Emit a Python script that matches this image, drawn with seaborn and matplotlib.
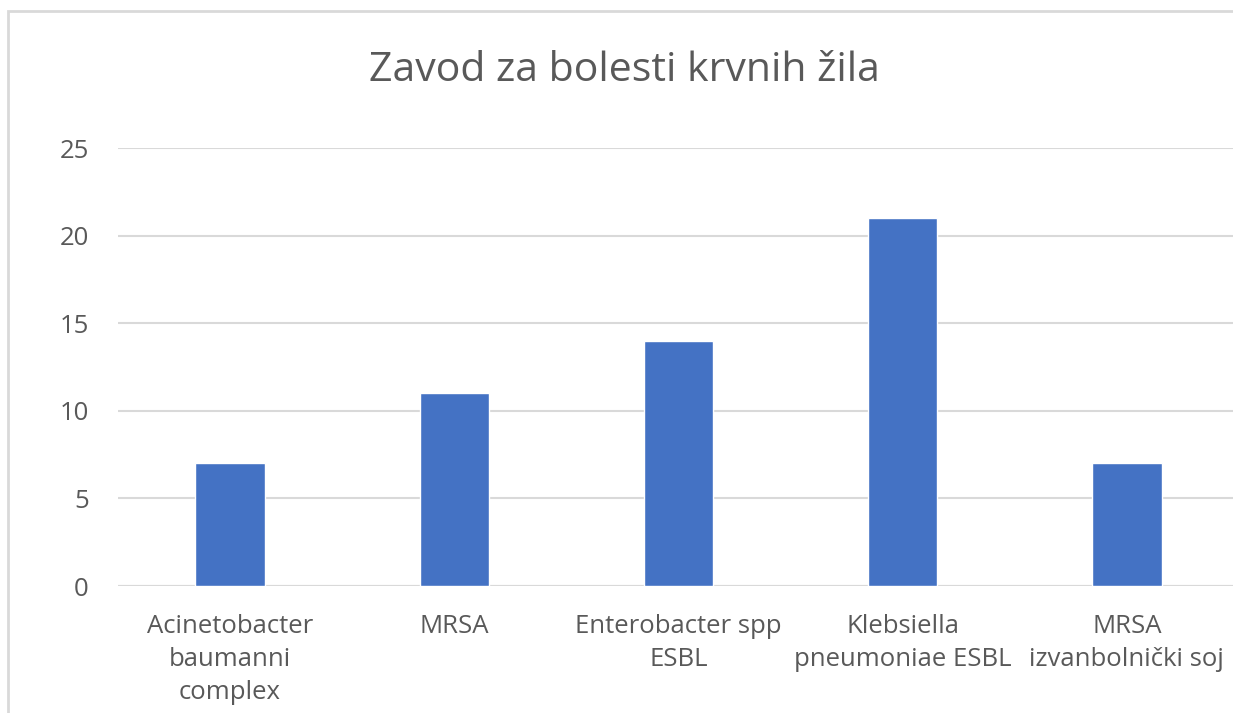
import matplotlib
matplotlib.use('Agg')
import matplotlib.pyplot as plt
import seaborn as sns
import pandas as pd
from matplotlib.patches import Rectangle

# podaci
categories = ['Acinetobacter\nbaumanni\ncomplex', 'MRSA', 'Enterobacter spp\nESBL',
              'Klebsiella\npneumoniae ESBL', 'MRSA\nizvanbolnički soj']
values = [7, 11, 14, 21, 7]
yticks = [0, 5, 10, 15, 20, 25]
title = 'Zavod za bolesti krvnih žila'

df = pd.DataFrame({'kategorija': categories, 'broj': values})

sns.set_style('white')
plt.rcParams['font.family'] = ['Open Sans', 'DejaVu Sans']

fig = plt.figure(figsize=(12.33, 7.13), dpi=100)
ax = fig.add_axes([118 / 1233, 127 / 713, 1121 / 1233, 438 / 713])

sns.barplot(data=df, x='kategorija', y='broj', color='#4472C4', width=0.31,
            saturation=1, ax=ax, zorder=3)

ax.set_xlim(-0.5, len(categories) - 0.5)
ax.set_ylim(0, 25)
ax.set_yticks(yticks)
ax.set_yticklabels([str(t) for t in yticks])
ax.yaxis.grid(True, color='#d9d9d9', linewidth=1.5, zorder=0)
ax.set_axisbelow(True)
for s in ax.spines.values():
    s.set_visible(False)
ax.axhline(0, color='#d9d9d9', linewidth=1.5, zorder=2)
ax.tick_params(axis='both', length=0, labelsize=18.5, labelcolor='#595959')
ax.tick_params(axis='y', pad=21)
ax.tick_params(axis='x', pad=20)
ax.set_xlabel('')
ax.set_ylabel('')
for lbl in ax.get_xticklabels():
    lbl.set_linespacing(1.42)

fig.text(624 / 1233, 1 - 71 / 713, title, ha='center', va='center',
         fontsize=29.5, color='#595959')

# okvir grafikona
fig.patches.append(Rectangle((8 / 1233, -0.1), 1.2, 1 - 11 / 713 + 0.1,
                             transform=fig.transFigure, fill=False,
                             edgecolor='#d9d9d9', linewidth=2))

fig.savefig('out.png', dpi=100)
